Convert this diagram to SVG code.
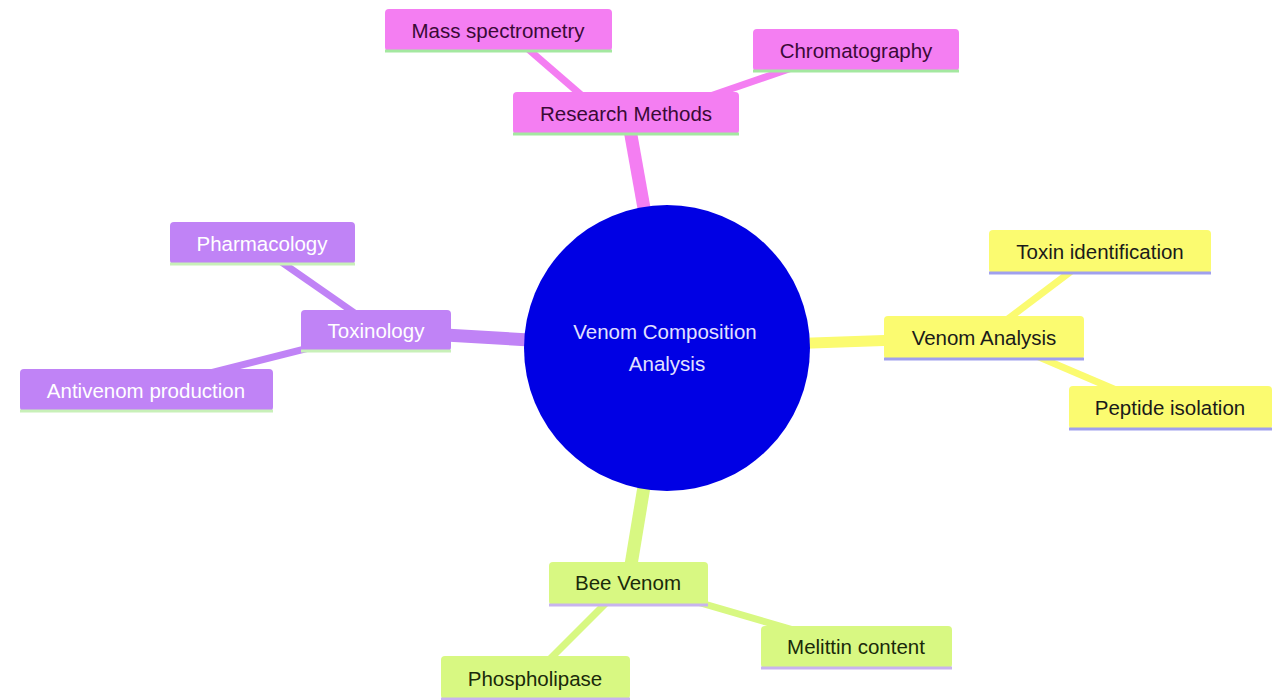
<svg xmlns="http://www.w3.org/2000/svg" width="1272" height="700" viewBox="0 0 1272 700">
<style>
text{font-family:"Liberation Sans",Arial,sans-serif;font-size:20.5px;text-anchor:middle;dominant-baseline:central}
.pink rect{fill:#f47ef2}
.pink line{stroke:#a4e8a0}
.pink text{fill:#3a0a36}
.purp rect{fill:#c083f6}
.purp line{stroke:#c8f0b8}
.purp text{fill:#ffffff}
.yel rect{fill:#fbfb70}
.yel line{stroke:#a0a0ee}
.yel text{fill:#1a1a1a}
.grn rect{fill:#d8f882}
.grn line{stroke:#c8b4ee}
.grn text{fill:#1a2a0a}
.nb{stroke-width:3}
.e{fill:none;stroke-linecap:butt}
</style>
<rect width="1272" height="700" fill="#ffffff"/>
<g id="connectors">
<line class="e" x1="627" y1="113" x2="669" y2="348" stroke="#f47ef2" stroke-width="13"/>
<line class="e" x1="506" y1="30" x2="602" y2="113" stroke="#f47ef2" stroke-width="7"/>
<line class="e" x1="844" y1="50" x2="661" y2="113" stroke="#f47ef2" stroke-width="7"/>
<line class="e" x1="376" y1="331" x2="667" y2="348" stroke="#c083f6" stroke-width="13"/>
<line class="e" x1="254" y1="243" x2="379" y2="330" stroke="#c083f6" stroke-width="7"/>
<line class="e" x1="143" y1="390" x2="380" y2="330" stroke="#c083f6" stroke-width="7"/>
<line class="e" x1="667" y1="348" x2="984" y2="337" stroke="#fbfb70" stroke-width="11"/>
<line class="e" x1="1098" y1="251" x2="984" y2="337" stroke="#fbfb70" stroke-width="7"/>
<line class="e" x1="992" y1="337" x2="1156" y2="407" stroke="#fbfb70" stroke-width="7"/>
<line class="e" x1="667" y1="348" x2="628" y2="583" stroke="#d8f882" stroke-width="13"/>
<line class="e" x1="632" y1="583" x2="852" y2="647" stroke="#d8f882" stroke-width="7"/>
<line class="e" x1="626" y1="583" x2="531" y2="678" stroke="#d8f882" stroke-width="7"/>
</g>
<g id="root">
<circle cx="667" cy="348" r="143" fill="#0000e4"/>
<text x="665" y="331" fill="#e2e0ff">Venom Composition</text>
<text x="667" y="363" fill="#e2e0ff">Analysis</text>
</g>
<g id="research-methods" class="pink">
<rect x="513" y="92" width="226" height="42" rx="4"/>
<line class="nb" x1="513" y1="134" x2="739" y2="134"/>
<text x="626" y="113">Research Methods</text>
</g>
<g id="mass-spectrometry" class="pink">
<rect x="385" y="9" width="227" height="42" rx="4"/>
<line class="nb" x1="385" y1="51" x2="612" y2="51"/>
<text x="498" y="30">Mass spectrometry</text>
</g>
<g id="chromatography" class="pink">
<rect x="753" y="29" width="206" height="42" rx="4"/>
<line class="nb" x1="753" y1="71" x2="959" y2="71"/>
<text x="856" y="50">Chromatography</text>
</g>
<g id="toxinology" class="purp">
<rect x="301" y="310" width="150" height="41" rx="4"/>
<line class="nb" x1="301" y1="351" x2="451" y2="351"/>
<text x="376" y="330">Toxinology</text>
</g>
<g id="pharmacology" class="purp">
<rect x="170" y="222" width="185" height="42" rx="4"/>
<line class="nb" x1="170" y1="264" x2="355" y2="264"/>
<text x="262" y="243">Pharmacology</text>
</g>
<g id="antivenom-production" class="purp">
<rect x="20" y="369" width="253" height="42" rx="4"/>
<line class="nb" x1="20" y1="411" x2="273" y2="411"/>
<text x="146" y="390">Antivenom production</text>
</g>
<g id="venom-analysis" class="yel">
<rect x="884" y="316" width="200" height="43" rx="4"/>
<line class="nb" x1="884" y1="359" x2="1084" y2="359"/>
<text x="984" y="337">Venom Analysis</text>
</g>
<g id="toxin-identification" class="yel">
<rect x="989" y="230" width="222" height="43" rx="4"/>
<line class="nb" x1="989" y1="273" x2="1211" y2="273"/>
<text x="1100" y="251">Toxin identification</text>
</g>
<g id="peptide-isolation" class="yel">
<rect x="1069" y="386" width="203" height="43" rx="4"/>
<line class="nb" x1="1069" y1="429" x2="1272" y2="429"/>
<text x="1170" y="407">Peptide isolation</text>
</g>
<g id="bee-venom" class="grn">
<rect x="549" y="562" width="159" height="43" rx="4"/>
<line class="nb" x1="549" y1="605" x2="708" y2="605"/>
<text x="628" y="582">Bee Venom</text>
</g>
<g id="melittin-content" class="grn">
<rect x="761" y="626" width="191" height="42" rx="4"/>
<line class="nb" x1="761" y1="668" x2="952" y2="668"/>
<text x="856" y="646">Melittin content</text>
</g>
<g id="phospholipase" class="grn">
<rect x="441" y="656" width="189" height="43" rx="4"/>
<line class="nb" x1="441" y1="699" x2="630" y2="699"/>
<text x="535" y="678">Phospholipase</text>
</g>
</svg>
